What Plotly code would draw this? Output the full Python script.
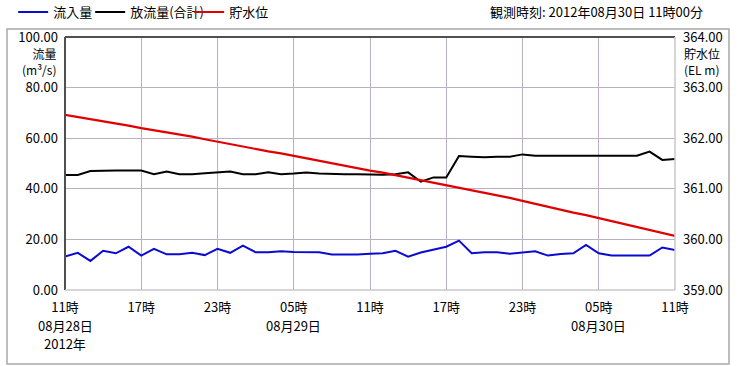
import pandas as pd
import plotly.graph_objects as go

# ---- data (hourly, 2012-08-28 11:00 .. 2012-08-30 11:00) ----
start = "2012-08-28 11:00"
inflow = [13.2, 14.7, 11.5, 15.5, 14.5, 17.1, 13.6, 16.3, 14.1, 14.1,
          14.7, 13.8, 16.3, 14.7, 17.5, 14.9, 14.9, 15.3, 15.0, 15.0,
          14.9, 14.0, 14.0, 14.0, 14.3, 14.5, 15.5, 13.2, 14.8, 16.0,
          17.1, 19.5, 14.5, 14.9, 14.9, 14.3, 14.8, 15.3, 13.6, 14.2,
          14.5, 17.8, 14.5, 13.6, 13.6, 13.6, 13.6, 16.8, 15.8]
outflow = [45.5, 45.5, 47.0, 47.2, 47.2, 47.2, 47.2, 45.8, 46.8, 45.8,
           45.8, 46.1, 46.4, 46.8, 45.8, 45.8, 46.5, 45.8, 46.0, 46.4,
           46.0, 45.8, 45.8, 45.8, 45.6, 45.6, 45.8, 46.5, 42.8, 44.5,
           44.5, 53.0, 52.7, 52.5, 52.7, 52.7, 53.6, 53.1, 53.1, 53.1,
           53.1, 53.1, 53.1, 53.1, 53.1, 53.1, 54.7, 51.4, 51.8]
level = [362.46, 362.42, 362.37, 362.33, 362.29, 362.25, 362.20, 362.16, 362.12, 362.07,
         362.03, 361.98, 361.93, 361.89, 361.84, 361.79, 361.74, 361.70, 361.65, 361.60,
         361.55, 361.50, 361.46, 361.41, 361.36, 361.32, 361.27, 361.23, 361.18, 361.13,
         361.08, 361.03, 360.98, 360.93, 360.87, 360.82, 360.76, 360.70, 360.65, 360.59,
         360.53, 360.48, 360.42, 360.36, 360.30, 360.24, 360.18, 360.13, 360.07]
times = pd.date_range(start, periods=len(level), freq="h")

tick_vals = pd.date_range(start, periods=9, freq="6h")
hour_labels = ["11時", "17時", "23時", "05時", "11時", "17時", "23時", "05時", "11時"]
date_labels = {0: "08月28日", 3: "08月29日", 7: "08月30日"}
year_label = "2012年"
flow_ticks = [0, 20, 40, 60, 80, 100]
level_ticks = [359, 360, 361, 362, 363, 364]

FONT = "Noto Sans CJK JP"
GRID = "#b9b0c4"
FS = 13

fig = go.Figure()
fig.add_trace(go.Scatter(x=times, y=inflow, name="流入量", mode="lines", legendwidth=32,
                         line=dict(color="#0a0ad0", width=2)))
fig.add_trace(go.Scatter(x=times, y=outflow, name="放流量(合計)", mode="lines", legendwidth=54,
                         line=dict(color="#000000", width=2)))
fig.add_trace(go.Scatter(x=times, y=level, name="貯水位", mode="lines", yaxis="y2",
                         line=dict(color="#e00000", width=2.2)))

fig.update_layout(
    width=740, height=366,
    margin=dict(l=65, r=65, t=37, b=76, autoexpand=False),
    paper_bgcolor="white", plot_bgcolor="white",
    font=dict(family=FONT, size=FS, color="#000000"),
    showlegend=True,
    legend=dict(orientation="h", x=-0.085, y=1.158, xanchor="left", yanchor="top",
                font=dict(size=FS), itemwidth=30, tracegroupgap=0,
                bgcolor="rgba(0,0,0,0)"),
    xaxis=dict(range=[times[0], times[-1]], tickvals=tick_vals, ticktext=hour_labels,
               showgrid=True, gridcolor=GRID, gridwidth=1, zeroline=False,
               showline=False, ticks="", tickangle=0, ticklabelstandoff=8),
    yaxis=dict(range=[0, 100], tickvals=flow_ticks, tickformat=".2f",
               showgrid=True, gridcolor=GRID, gridwidth=1, zeroline=False,
               showline=False, ticks="", ticklabelstandoff=6),
    yaxis2=dict(range=[359, 364], tickvals=level_ticks, tickformat=".2f",
                overlaying="y", side="right", showgrid=False, zeroline=False,
                showline=False, ticks="", ticklabelstandoff=7),
)

# outer frame
fig.add_shape(type="rect", xref="paper", yref="paper",
              x0=-0.0951, x1=1.0885, y0=-0.2925, y1=1.0316,
              line=dict(color="#a8a8a8", width=1.5), layer="below")
# plot border: dark top/left, light bottom/right
fig.add_shape(type="line", xref="paper", yref="paper", x0=0, x1=1, y0=1, y1=1,
              line=dict(color="#505050", width=2))
fig.add_shape(type="line", xref="paper", yref="paper", x0=0, x1=0, y0=0, y1=1,
              line=dict(color="#505050", width=2))
fig.add_shape(type="line", xref="paper", yref="paper", x0=0, x1=1, y0=0, y1=0,
              line=dict(color="#c8c8c8", width=1.5))
fig.add_shape(type="line", xref="paper", yref="paper", x0=1, x1=1, y0=0, y1=1,
              line=dict(color="#c8c8c8", width=1.5))

# second/third lines of the x tick labels (date, year)
for i, txt in date_labels.items():
    fig.add_annotation(xref="x", yref="paper", x=tick_vals[i], y=-0.142,
                       xanchor="center", yanchor="middle", showarrow=False,
                       text=txt, font=dict(size=FS))
fig.add_annotation(xref="x", yref="paper", x=tick_vals[0], y=-0.212,
                   xanchor="center", yanchor="middle", showarrow=False,
                   text=year_label, font=dict(size=FS))

# axis titles
fig.add_annotation(xref="paper", yref="paper", x=-0.011, y=1.0, yshift=-6,
                   xanchor="right", yanchor="top", align="right", showarrow=False,
                   text="流量<br>(m³/s)", font=dict(size=12))
fig.add_annotation(xref="paper", yref="paper", x=1.012, y=1.0, yshift=-6,
                   xanchor="left", yanchor="top", align="left", showarrow=False,
                   text="貯水位<br>(EL m)", font=dict(size=12))
# observation time
fig.add_annotation(xref="paper", yref="paper", x=1.0492, y=1.1, xanchor="right",
                   yanchor="middle", showarrow=False,
                   text="観測時刻: 2012年08月30日 11時00分", font=dict(size=FS))

fig.write_html("out.html")
